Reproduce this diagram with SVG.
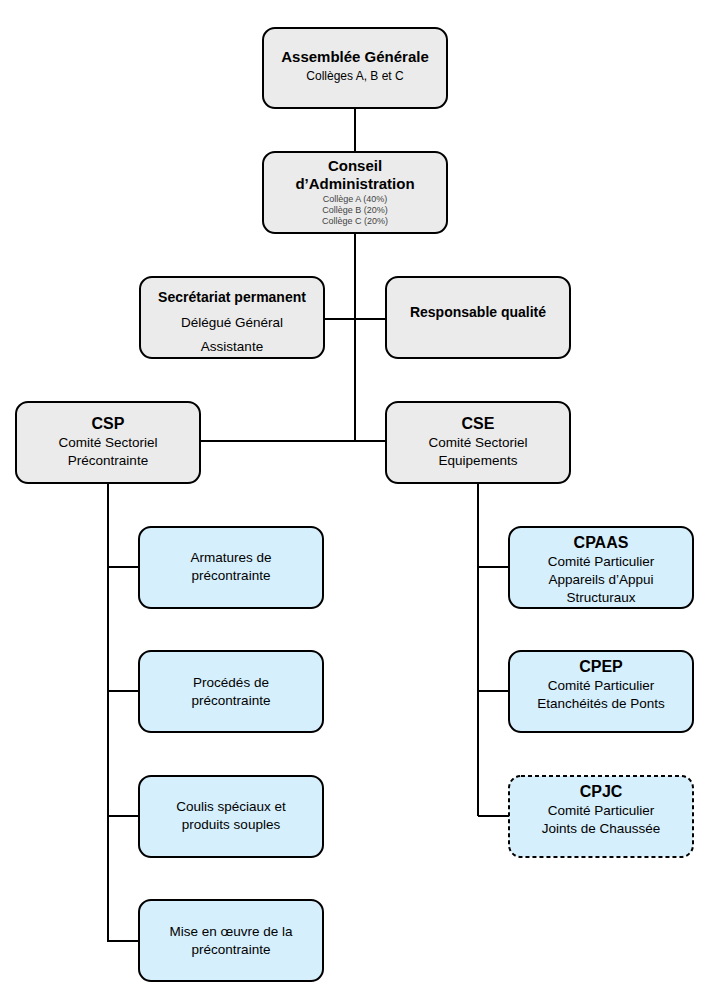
<svg xmlns="http://www.w3.org/2000/svg" width="710" height="1000" viewBox="0 0 710 1000">
<style>
text{font-family:"Liberation Sans",Arial,sans-serif;text-anchor:middle;fill:#000}
.g{fill:#ebebeb;stroke:#000;stroke-width:2}
.b{fill:#d6effc;stroke:#000;stroke-width:2}
.d{stroke-dasharray:4 3}
.t{font-size:15px;font-weight:bold}
.n{font-size:13.5px}
.s{font-size:9px;fill:#444}
.c{stroke:#000;stroke-width:2;fill:none}
</style>
<rect width="710" height="1000" fill="#fff"/>
<g id="connectors">
<path class="c" d="M355 108V152M355 233V441M324 319H386M200 441H386M108 483V942M108 567H139M108 691H139M108 816H139M108 941H139M478 483V816M478 567H509M478 691H509M478 816H509"/>
</g>
<g id="ag"><rect class="g" x="263" y="28" width="184" height="80" rx="12"/>
<text class="t" x="355" y="62">Assemblée Générale</text><text class="n" x="355" y="80" style="font-size:12px">Collèges A, B et C</text></g>
<g id="ca"><rect class="g" x="263" y="152" width="184" height="81" rx="12"/>
<text class="t" x="355" y="171">Conseil</text><text class="t" x="355" y="189">d’Administration</text>
<text class="s" x="355" y="202">Collège A (40%)</text><text class="s" x="355" y="213">Collège B (20%)</text><text class="s" x="355" y="224">Collège C (20%)</text></g>
<g id="secr"><rect class="g" x="140" y="277" width="184" height="81" rx="12"/>
<text class="t" x="232" y="302" style="font-size:14px">Secrétariat permanent</text><text class="n" x="232" y="327">Délégué Général</text><text class="n" x="232" y="351">Assistante</text></g>
<g id="resp"><rect class="g" x="386" y="277" width="184" height="81" rx="12"/>
<text class="t" x="478" y="317" style="font-size:14px">Responsable qualité</text></g>
<g id="csp"><rect class="g" x="16" y="402" width="184" height="81" rx="12"/>
<text class="t" x="108" y="429" style="font-size:16px">CSP</text><text class="n" x="108" y="447">Comité Sectoriel</text><text class="n" x="108" y="465">Précontrainte</text></g>
<g id="cse"><rect class="g" x="386" y="402" width="184" height="81" rx="12"/>
<text class="t" x="478" y="429" style="font-size:16px">CSE</text><text class="n" x="478" y="447">Comité Sectoriel</text><text class="n" x="478" y="465">Equipements</text></g>
<g id="arm"><rect class="b" x="139" y="527" width="184" height="81" rx="12"/>
<text class="n" x="231" y="562">Armatures de</text><text class="n" x="231" y="580">précontrainte</text></g>
<g id="proc"><rect class="b" x="139" y="651" width="184" height="81" rx="12"/>
<text class="n" x="231" y="687">Procédés de</text><text class="n" x="231" y="705">précontrainte</text></g>
<g id="coulis"><rect class="b" x="139" y="776" width="184" height="81" rx="12"/>
<text class="n" x="231" y="811">Coulis spéciaux et</text><text class="n" x="231" y="829">produits souples</text></g>
<g id="mise"><rect class="b" x="139" y="900" width="184" height="81" rx="12"/>
<text class="n" x="231" y="936">Mise en œuvre de la</text><text class="n" x="231" y="954">précontrainte</text></g>
<g id="cpaas"><rect class="b" x="509" y="527" width="184" height="81" rx="12"/>
<text class="t" x="601" y="548" style="font-size:16px">CPAAS</text><text class="n" x="601" y="566">Comité Particulier</text><text class="n" x="601" y="584">Appareils d’Appui</text><text class="n" x="601" y="602">Structuraux</text></g>
<g id="cpep"><rect class="b" x="509" y="651" width="184" height="81" rx="12"/>
<text class="t" x="601" y="672" style="font-size:16px">CPEP</text><text class="n" x="601" y="690">Comité Particulier</text><text class="n" x="601" y="708">Etanchéités de Ponts</text></g>
<g id="cpjc"><rect class="b d" x="509" y="776" width="184" height="81" rx="12"/>
<text class="t" x="601" y="797" style="font-size:16px">CPJC</text><text class="n" x="601" y="815">Comité Particulier</text><text class="n" x="601" y="833">Joints de Chaussée</text></g>
</svg>
